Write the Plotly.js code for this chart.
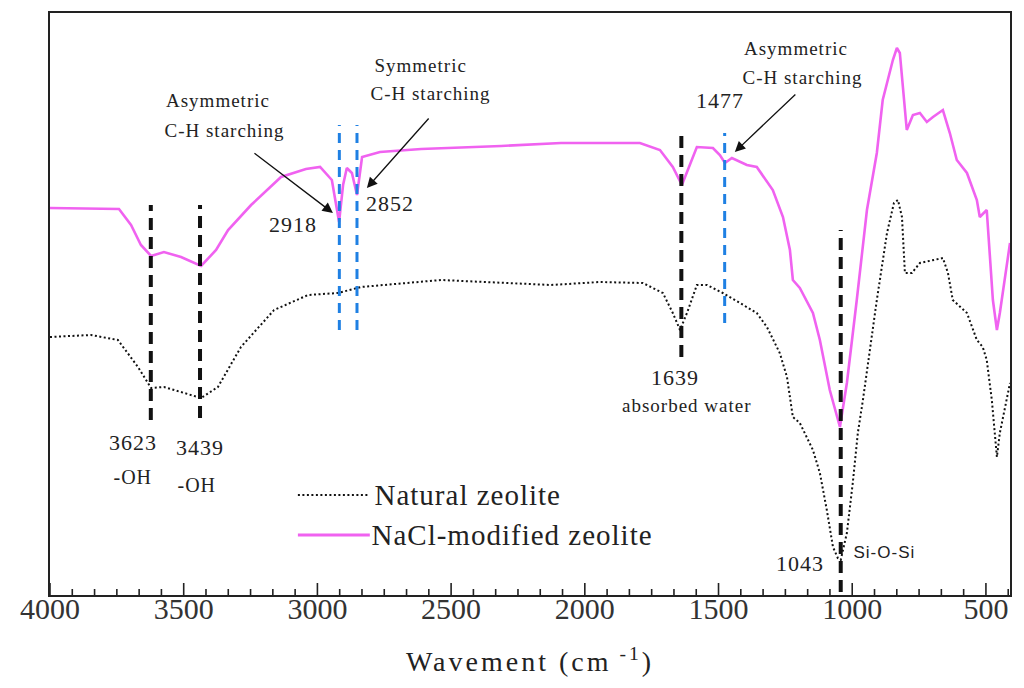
<!DOCTYPE html>
<html>
<head>
<meta charset="utf-8">
<script src="https://cdn.plot.ly/plotly-3.0.1.min.js"></script>
<style>
  html, body { margin: 0; padding: 0; background: #fff; }
  #chart { width: 1024px; height: 688px; }
</style>
</head>
<body>
<div id="chart"></div>
<script>
// ---- data ----
const seriesNames = ['Natural zeolite', 'NaCl-modified zeolite'];

const natWave = [4000,3847,3746,3671,3622,3574,3435,3372,3286,3162,3035,2923,2837,2538,2126,1944,1783,1708,1671,1644,1618,1581,1543,1484,1420,1357,1319,1271,1244,1222,1196,1147,1121,1095,1072,1054,1043,1020,998,979,960,934,908,870,844,829,814,803,777,747,661,642,624,571,534,512,497,478,459,448,410];
const natTrans = [258,260,255,228,207,208,197,208,248,285,300,302,308,315,310,313,312,302,282,265,282,310,310,302,292,282,268,242,218,178,172,145,122,85,48,37,35,62,112,162,195,245,295,362,392,395,378,322,322,332,337,322,295,282,255,248,235,195,138,162,212];

const naclWave = [4000,3742,3697,3660,3622,3574,3510,3435,3379,3334,3248,3136,3043,2990,2946,2919,2904,2890,2871,2852,2833,2766,2612,2313,2089,1944,1794,1719,1671,1637,1614,1581,1521,1495,1476,1450,1394,1357,1297,1259,1233,1222,1196,1147,1121,1084,1046,1020,983,945,908,886,848,833,822,796,773,747,721,698,661,635,609,571,534,523,497,485,474,459,448,410];
const naclTrans = [387,386,370,350,339,343,338,329,345,365,390,418,426,428,415,373,410,427,422,400,438,443,446,449,452,452,452,445,428,410,425,448,447,440,432,437,430,428,405,378,345,315,307,282,255,205,168,212,295,385,442,495,535,547,542,465,480,482,473,478,485,462,435,422,395,378,385,342,295,265,282,352];

const xTickValues = [4000,3500,3000,2500,2000,1500,1000,500];
const minorPerMajor = 6;

// marked bands
const blackPeaks = [3623, 3439, 1639, 1043];
const bluePeaks = [2918, 2852, 1477];
const peakLabels = ['3623', '3439', '1639', '1043', '2918', '2852', '1477'];
const groupLabels = ['-OH', '-OH', 'absorbed water', 'Si-O-Si'];
const noteLabels = ['Asymmetric', 'C-H starching', 'Symmetric', 'C-H starching', 'Asymmetric', 'C-H starching'];

// ---- styling / layout ----
const SERIF = 'Liberation Serif, Times New Roman, serif';
const BLACK = '#111';
const PINK = '#F062F0';
const BLUE = '#1F80E3';
const X_RANGE = [4000, 410];

// inward tick marks along the bottom axis, built from the tick values
const tickX = [], tickY = [];
const step = (xTickValues[0] - xTickValues[1]) / minorPerMajor;
for (let k = 1; k * step <= X_RANGE[0] + 1e-6; k++) {
  const v = k * step;
  if (v < X_RANGE[1]) continue;
  const major = (k % minorPerMajor === 0);
  tickX.push(v, v, null);
  tickY.push(0, major ? 12 : 6, null);
}

const traces = [
  { x: natWave, y: natTrans, name: seriesNames[0], mode: 'lines',
    line: { color: BLACK, width: 2, dash: '2px,2.5px' }, showlegend: false, hoverinfo: 'skip' },
  { x: naclWave, y: naclTrans, name: seriesNames[1], mode: 'lines',
    line: { color: PINK, width: 2.6 }, showlegend: false, hoverinfo: 'skip' },
  { x: tickX, y: tickY, mode: 'lines', line: { color: '#222', width: 1.6 },
    showlegend: false, hoverinfo: 'skip', connectgaps: false, cliponaxis: false }
];

const blackSpans = [[175, 390], [177, 390], [238, 465], [3, 365]];
const blueSpans = [[265, 470], [265, 470], [272, 462]];

const shapes = [];
blackPeaks.forEach((w, i) => shapes.push({ type: 'line', xref: 'x', yref: 'y',
  x0: w, x1: w, y0: blackSpans[i][0], y1: blackSpans[i][1],
  line: { color: BLACK, width: 4, dash: '12px,7px' } }));
bluePeaks.forEach((w, i) => shapes.push({ type: 'line', xref: 'x', yref: 'y',
  x0: w, x1: w, y0: blueSpans[i][0], y1: blueSpans[i][1],
  line: { color: BLUE, width: 3, dash: '10px,7px' } }));

// legend swatches (manual legend)
shapes.push({ type: 'line', xref: 'x', yref: 'y', x0: 3073, x1: 2804, y0: 100, y1: 100,
  line: { color: BLACK, width: 2, dash: '2px,2.5px' } });
shapes.push({ type: 'line', xref: 'x', yref: 'y', x0: 3073, x1: 2804, y0: 60, y1: 60,
  line: { color: PINK, width: 3 } });

function txt(text, x, y, size, opts) {
  return Object.assign({ text: text, x: x, y: y, xref: 'x', yref: 'y', showarrow: false,
    font: { family: SERIF, size: size, color: '#222' }, xanchor: 'center', yanchor: 'middle' }, opts || {});
}
function arrow(xh, yh, xt, yt) {
  return { text: '', x: xh, y: yh, ax: xt, ay: yt, xref: 'x', yref: 'y', axref: 'x', ayref: 'y',
    showarrow: true, arrowhead: 2, arrowsize: 1.6, arrowwidth: 1.3, arrowcolor: '#111' };
}

const annotations = [
  txt(peakLabels[0], 3690, 153, 22),
  txt(groupLabels[0], 3690, 118, 20),
  txt(peakLabels[1], 3439, 148, 22),
  txt(groupLabels[1], 3450, 110, 20),
  txt(peakLabels[2], 1663, 218, 22),
  txt(groupLabels[2], 1618, 190, 19),
  txt(peakLabels[3], 1196, 32, 22),
  txt(groupLabels[3], 990, 43, 17, { xanchor: 'left', font: { family: 'Liberation Sans, Arial, sans-serif', size: 17, color: '#222' } }),
  txt(peakLabels[4], 3091, 371, 22),
  txt(peakLabels[5], 2729, 392, 22),
  txt(peakLabels[6], 1495, 495, 22),
  txt(noteLabels[0], 3555, 495, 19, { xanchor: 'left' }),
  txt(noteLabels[1], 3555, 465, 19, { xanchor: 'left' }),
  txt(noteLabels[2], 2777, 530, 19, { xanchor: 'left' }),
  txt(noteLabels[3], 2785, 502, 19, { xanchor: 'left' }),
  txt(noteLabels[4], 1394, 547, 19, { xanchor: 'left' }),
  txt(noteLabels[5], 1394, 518, 19, { xanchor: 'left' }),
  arrow(2942, 382, 3241, 443),
  arrow(2815, 407, 2579, 478),
  arrow(1439, 443, 1207, 502),
  txt(seriesNames[0], 2766, 100, 29, { xanchor: 'left' }),
  txt(seriesNames[1], 2766, 60, 29, { xanchor: 'left' })
];

const layout = {
  width: 1024, height: 688,
  margin: { l: 50, r: 14, t: 13, b: 93 },
  paper_bgcolor: '#fff', plot_bgcolor: '#fff',
  showlegend: false,
  xaxis: {
    range: X_RANGE, showgrid: false, zeroline: false,
    showline: true, linecolor: '#222', linewidth: 1.6, mirror: true,
    ticks: '', tickmode: 'array', tickvals: xTickValues, ticktext: xTickValues.map(String),
    tickfont: { family: SERIF, size: 30, color: '#333' },
    ticklabelstandoff: -14,
    title: { text: 'Wavement (cm<sup> -1</sup>)', font: { family: SERIF, size: 28, color: '#222' }, standoff: 28 }
  },
  yaxis: {
    range: [0, 582], showgrid: false, zeroline: false,
    showline: true, linecolor: '#222', linewidth: 1.6, mirror: true,
    ticks: '', showticklabels: false
  },
  shapes: shapes,
  annotations: annotations
};

Plotly.newPlot('chart', traces, layout, { staticPlot: true, displayModeBar: false }).then(() => {
  const t = document.querySelector('.xtitle');
  if (t) t.style.letterSpacing = '3px';
  document.querySelectorAll('.annotation-text').forEach(el => { el.style.letterSpacing = '1px'; });
});
</script>
</body>
</html>
